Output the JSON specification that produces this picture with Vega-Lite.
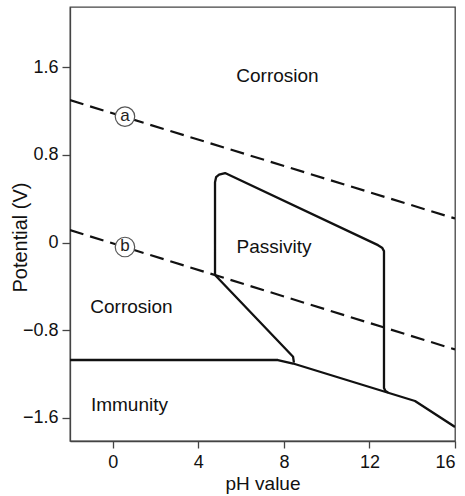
{
  "$schema": "https://vega.github.io/schema/vega-lite/v6.json",
  "width": 385,
  "height": 434,
  "autosize": "none",
  "padding": {"left": 70, "top": 7, "right": 10, "bottom": 55},
  "background": "white",
  "config": {
    "font": "Liberation Sans",
    "view": {"stroke": "#444", "strokeWidth": 1.3},
    "axis": {
      "grid": false,
      "domainColor": "#444",
      "domainWidth": 1.3,
      "tickColor": "#444",
      "tickWidth": 1.3,
      "tickSize": 7,
      "labelColor": "#111",
      "titleColor": "#111",
      "labelFontSize": 18,
      "titleFontWeight": "normal",
      "labelFont": "Liberation Sans",
      "titleFont": "Liberation Sans"
    }
  },
  "datasets": {
    "curves": [
      {"s": "bottom", "i": 0, "x": -2, "y": -1.071},
      {"s": "bottom", "i": 1, "x": 7.72, "y": -1.071},
      {"s": "bottom", "i": 2, "x": 8.43, "y": -1.103},
      {"s": "bottom", "i": 3, "x": 14.13, "y": -1.445},
      {"s": "bottom", "i": 4, "x": 16, "y": -1.682},
      {"s": "passive", "i": 0, "x": 4.78, "y": -0.296},
      {"s": "passive", "i": 1, "x": 4.78, "y": 0.551},
      {"s": "passive", "i": 2, "x": 4.83, "y": 0.597},
      {"s": "passive", "i": 3, "x": 4.97, "y": 0.62},
      {"s": "passive", "i": 4, "x": 5.25, "y": 0.635},
      {"s": "passive", "i": 5, "x": 12.4, "y": -0.023},
      {"s": "passive", "i": 6, "x": 12.59, "y": -0.046},
      {"s": "passive", "i": 7, "x": 12.68, "y": -0.077},
      {"s": "passive", "i": 8, "x": 12.68, "y": -1.326},
      {"s": "passive", "i": 9, "x": 12.75, "y": -1.354},
      {"s": "passive", "i": 10, "x": 12.87, "y": -1.367},
      {"s": "diag", "i": 0, "x": 4.78, "y": -0.296},
      {"s": "diag", "i": 1, "x": 8.43, "y": -1.042},
      {"s": "diag", "i": 2, "x": 8.47, "y": -1.095}
    ],
    "water": [
      {"s": "a", "x": -2, "y": 1.3},
      {"s": "a", "x": 16, "y": 0.22},
      {"s": "b", "x": -2, "y": 0.114},
      {"s": "b", "x": 16, "y": -0.975}
    ],
    "circles": [
      {"x": 0.57, "y": 1.15, "t": "a"},
      {"x": 0.57, "y": -0.04, "t": "b"}
    ],
    "labels": [
      {"x": 7.7, "y": 1.522, "t": "Corrosion"},
      {"x": 7.54, "y": -0.036, "t": "Passivity"},
      {"x": 0.875, "y": -0.583, "t": "Corrosion"},
      {"x": 0.78, "y": -1.477, "t": "Immunity"}
    ]
  },
  "layer": [
    {
      "data": {"name": "water"},
      "mark": {"type": "line", "color": "#111", "strokeWidth": 2.2, "strokeDash": [14, 7], "clip": true},
      "encoding": {
        "x": {
          "field": "x", "type": "quantitative",
          "scale": {"domain": [-2, 16], "nice": false, "zero": false},
          "axis": {"values": [0, 4, 8, 12, 16], "title": "pH value", "titleFontSize": 19, "labelBaseline": "alphabetic", "labelPadding": 19, "titleBaseline": "alphabetic", "titleY": 48}
        },
        "y": {
          "field": "y", "type": "quantitative",
          "scale": {"domain": [-1.81, 2.15], "nice": false, "zero": false},
          "axis": {"values": [-1.6, -0.8, 0, 0.8, 1.6], "format": ".1~f", "title": "Potential (V)", "titleFontSize": 20, "tickSize": 8, "labelPadding": 4, "titleBaseline": "alphabetic", "titleX": -44, "titleY": 230}
        },
        "detail": {"field": "s"}
      }
    },
    {
      "data": {"name": "curves"},
      "mark": {"type": "line", "color": "#111", "strokeWidth": 2.3, "strokeJoin": "round", "clip": true},
      "encoding": {
        "x": {"field": "x", "type": "quantitative"},
        "y": {"field": "y", "type": "quantitative"},
        "detail": {"field": "s"},
        "order": {"field": "i"}
      }
    },
    {
      "data": {"name": "circles"},
      "mark": {"type": "point", "shape": "circle", "filled": false, "fill": "white", "fillOpacity": 1, "stroke": "#555", "strokeWidth": 1.2, "size": 380, "opacity": 1},
      "encoding": {
        "x": {"field": "x", "type": "quantitative"},
        "y": {"field": "y", "type": "quantitative"}
      }
    },
    {
      "data": {"name": "circles"},
      "mark": {"type": "text", "fontSize": 17, "color": "#222", "baseline": "middle", "align": "center", "dy": -1},
      "encoding": {
        "x": {"field": "x", "type": "quantitative"},
        "y": {"field": "y", "type": "quantitative"},
        "text": {"field": "t"}
      }
    },
    {
      "data": {"name": "labels"},
      "mark": {"type": "text", "fontSize": 19, "color": "#111", "baseline": "middle", "align": "center"},
      "encoding": {
        "x": {"field": "x", "type": "quantitative"},
        "y": {"field": "y", "type": "quantitative"},
        "text": {"field": "t"}
      }
    }
  ]
}
